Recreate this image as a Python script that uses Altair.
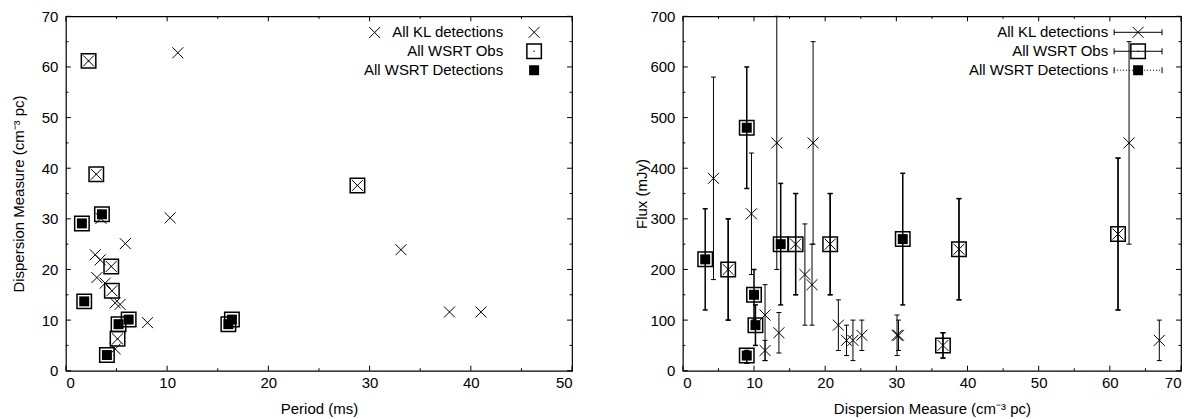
import altair as alt
import pandas as pd

# ---------------- Left panel: Period vs DM ----------------
kl_period = [2.24, 11.06, 3.0, 3.46, 10.3, 5.87, 2.9, 3.39, 4.48, 3.06, 3.88, 4.54,
             4.87, 5.36, 8.06, 5.1, 4.87, 28.8, 33.1, 37.9, 41.0, 30.5]
kl_dm = [61.2, 62.8, 38.8, 30.1, 30.2, 25.1, 22.9, 21.9, 20.6, 18.4, 17.3, 15.8,
         13.4, 13.1, 9.5, 6.3, 4.3, 36.6, 23.9, 11.6, 11.6, 66.8]
obs_period = [2.24, 3.0, 4.48, 4.54, 5.1, 28.8, 3.56, 1.58, 1.81, 6.2, 5.2, 4.05, 16.05, 16.4]
obs_dm = [61.2, 38.8, 20.6, 15.8, 6.3, 36.6, 30.9, 29.1, 13.7, 10.1, 9.2, 3.1, 9.2, 10.1]
det_period = [3.56, 1.58, 1.81, 6.2, 5.2, 4.05, 16.05, 16.4]
det_dm = [30.9, 29.1, 13.7, 10.1, 9.2, 3.1, 9.2, 10.1]

# ---------------- Right panel: DM vs Flux ----------------
kl_r_dm = [4.3, 6.37, 9.64, 11.55, 11.55, 13.2, 13.5, 15.85, 17.15, 18.15, 18.3, 20.7,
           21.85, 23.0, 23.9, 25.15, 30.1, 30.3, 36.55, 38.8, 61.15, 62.7, 66.95]
kl_flux = [380, 200, 310, 110, 40, 450, 75, 250, 190, 170, 450, 250,
           90, 60, 60, 70, 70, 70, 50, 240, 270, 450, 60]
kl_lo = [180, 100, 190, 20, 20, 200, 35, 150, 90, 90, 250, 150,
         40, 30, 20, 40, 30, 40, 25, 140, 120, 250, 20]
kl_hi = [580, 300, 430, 170, 60, 700, 115, 350, 290, 250, 650, 350,
         140, 90, 100, 100, 110, 100, 75, 340, 420, 650, 100]
obs_r_dm = [3.14, 6.37, 8.98, 10.0, 10.2, 8.98, 13.75, 15.85, 20.7, 30.9, 36.55, 38.8, 61.15]
obs_flux = [220, 200, 480, 150, 90, 30, 250, 250, 250, 260, 50, 240, 270]
obs_lo = [120, 100, 360, 100, 50, 15, 130, 150, 150, 130, 25, 140, 120]
obs_hi = [320, 300, 600, 200, 130, 40, 370, 350, 350, 390, 75, 340, 420]
det_r_dm = [3.14, 8.98, 10.0, 10.2, 8.98, 13.75, 30.9]
det_flux = [220, 480, 150, 90, 30, 250, 260]

legend_labels = ["All KL detections", "All WSRT Obs", "All WSRT Detections"]

# tick values
x1_major = [0, 10, 20, 30, 40, 50]
x1_minor = [5, 15, 25, 35, 45]
y1_major = [0, 10, 20, 30, 40, 50, 60, 70]
y1_minor = [5, 15, 25, 35, 45, 55, 65]
x2_major = [0, 10, 20, 30, 40, 50, 60, 70]
x2_minor = [5, 15, 25, 35, 45, 55, 65]
y2_major = [0, 100, 200, 300, 400, 500, 600, 700]
y2_minor = [50, 150, 250, 350, 450, 550, 650]

W1, W2, H = 507, 499, 355
FONT = "Liberation Sans"
XPATH = "M-1,-1L1,1M-1,1L1,-1"
SQ_OPEN = "M-1,-1L1,-1L1,1L-1,1Z M0,-0.07L0,0.07"
CAP = "M-1,0L1,0"
DM_TITLE = "Dispersion Measure (cm\u207b\u00b3 pc)"

# ---------- scales / axes ----------
xs1 = alt.Scale(domain=[0, 50], nice=False, zero=False)
ys1 = alt.Scale(domain=[0, 70], nice=False)
ax_x1 = alt.Axis(values=x1_major, ticks=False, domain=False, grid=False, format="d",
                 labelPadding=5, titlePadding=11)
ax_y1 = alt.Axis(values=y1_major, ticks=False, domain=False, grid=False, format="d",
                 labelPadding=8, titlePadding=15)
xs2 = alt.Scale(domain=[0, 70], nice=False, zero=False)
ys2 = alt.Scale(domain=[0, 700], nice=False)
ax_x2 = alt.Axis(values=x2_major, ticks=False, domain=False, grid=False, format="d",
                 labelPadding=5, titlePadding=11)
ax_y2 = alt.Axis(values=y2_major, ticks=False, domain=False, grid=False, format="d",
                 labelPadding=8, titlePadding=0)

P1 = dict(xs=xs1, ys=ys1, ax=ax_x1, ay=ax_y1, tx="Period (ms)", ty=DM_TITLE)
P2 = dict(xs=xs2, ys=ys2, ax=ax_x2, ay=ax_y2, tx=DM_TITLE, ty="Flux (mJy)")


def X(field, p):
    return alt.X(field, scale=p["xs"], axis=p["ax"], title=p["tx"])


def Y(field, p):
    return alt.Y(field, scale=p["ys"], axis=p["ay"], title=p["ty"])


def tick_layers(p, xmaj, xmin, ymaj, ymin, w, h):
    layers = []
    for vals, ln in ((xmaj, 5), (xmin, 2.5)):
        d = pd.DataFrame({"v": vals})
        layers.append(alt.Chart(d).mark_rule(color="black", strokeWidth=1).encode(
            x=X("v:Q", p), y=alt.value(h), y2=alt.value(h - ln)))
        layers.append(alt.Chart(d).mark_rule(color="black", strokeWidth=1).encode(
            x=X("v:Q", p), y=alt.value(0), y2=alt.value(ln)))
    for vals, ln in ((ymaj, 5), (ymin, 2.5)):
        d = pd.DataFrame({"v": vals})
        layers.append(alt.Chart(d).mark_rule(color="black", strokeWidth=1).encode(
            y=Y("v:Q", p), x=alt.value(0), x2=alt.value(ln)))
        layers.append(alt.Chart(d).mark_rule(color="black", strokeWidth=1).encode(
            y=Y("v:Q", p), x=alt.value(w), x2=alt.value(w - ln)))
    return layers


def pt(df, shape, size, p, filled=False, sw=1.0):
    if filled:
        m = alt.Chart(df).mark_point(shape=shape, size=size, filled=True, color="black", opacity=1)
    else:
        m = alt.Chart(df).mark_point(shape=shape, size=size, filled=False, stroke="black",
                                     strokeWidth=sw, opacity=1)
    return m.encode(x=X("x:Q", p), y=Y("y:Q", p))


def legend_symbol(lab, shape, size, x, y, filled=False, sw=1.0):
    d = pd.DataFrame({"label": [lab]})
    if filled:
        m = alt.Chart(d).mark_point(shape=shape, size=size, filled=True, color="black", opacity=1)
    else:
        m = alt.Chart(d).mark_point(shape=shape, size=size, filled=False, stroke="black",
                                    strokeWidth=sw, opacity=1)
    return m.encode(x=alt.value(x), y=alt.value(y))


def legend_text(lab, x, y):
    d = pd.DataFrame({"label": [lab]})
    return alt.Chart(d).mark_text(align="right", baseline="middle", fontSize=15,
                                  font=FONT, color="black").encode(
        x=alt.value(x), y=alt.value(y), text="label:N")


leg_rows = [16, 35, 54]

# ---------- left panel ----------
kl_df = pd.DataFrame({"x": kl_period, "y": kl_dm})
obs_df = pd.DataFrame({"x": obs_period, "y": obs_dm})
det_df = pd.DataFrame({"x": det_period, "y": det_dm})

left_layers = [pt(kl_df, XPATH, 121, P1),
               pt(obs_df, SQ_OPEN, 210, P1, sw=1.5),
               pt(det_df, "square", 100, P1, filled=True)]
left_layers += tick_layers(P1, x1_major, x1_minor, y1_major, y1_minor, W1, H)
for i, lab in enumerate(legend_labels):
    left_layers.append(legend_text(lab, 438, leg_rows[i]))
left_layers.append(legend_symbol(legend_labels[0], XPATH, 121, 469, leg_rows[0]))
left_layers.append(legend_symbol(legend_labels[1], SQ_OPEN, 210, 469, leg_rows[1], sw=1.5))
left_layers.append(legend_symbol(legend_labels[2], "square", 100, 469, leg_rows[2], filled=True))

left = alt.layer(*left_layers).properties(width=W1, height=H)

# ---------- right panel ----------
klr = pd.DataFrame({"x": kl_r_dm, "y": kl_flux, "lo": kl_lo, "hi": kl_hi})
obr = pd.DataFrame({"x": obs_r_dm, "y": obs_flux, "lo": obs_lo, "hi": obs_hi})
der = pd.DataFrame({"x": det_r_dm, "y": det_flux})

right_layers = []
right_layers.append(alt.Chart(klr).mark_rule(color="black", strokeWidth=1).encode(
    x=X("x:Q", P2), y=Y("lo:Q", P2), y2="hi:Q"))
for f in ("lo", "hi"):
    right_layers.append(alt.Chart(klr).mark_point(shape=CAP, size=25, filled=False, stroke="black",
                                                  strokeWidth=1, opacity=1).encode(
        x=X("x:Q", P2), y=Y(f + ":Q", P2)))
right_layers.append(pt(klr, XPATH, 121, P2))
right_layers.append(alt.Chart(obr).mark_rule(color="black", strokeWidth=1.5).encode(
    x=X("x:Q", P2), y=Y("lo:Q", P2), y2="hi:Q"))
for f in ("lo", "hi"):
    right_layers.append(alt.Chart(obr).mark_point(shape=CAP, size=25, filled=False, stroke="black",
                                                  strokeWidth=1.5, opacity=1).encode(
        x=X("x:Q", P2), y=Y(f + ":Q", P2)))
right_layers.append(pt(obr, SQ_OPEN, 210, P2, sw=1.5))
right_layers.append(pt(der, "square", 100, P2, filled=True))
right_layers += tick_layers(P2, x2_major, x2_minor, y2_major, y2_minor, W2, H)

LX0, LX1, LXC, LTX = 432, 480, 456, 426
for i, lab in enumerate(legend_labels):
    d = pd.DataFrame({"label": [lab]})
    yy = leg_rows[i]
    right_layers.append(legend_text(lab, LTX, yy))
    rule_kw = dict(color="black", strokeWidth=1)
    if i == 2:
        rule_kw["strokeDash"] = [1, 2]
    right_layers.append(alt.Chart(d).mark_rule(**rule_kw).encode(
        x=alt.value(LX0), x2=alt.value(LX1), y=alt.value(yy)))
    for cx in (LX0, LX1):
        right_layers.append(alt.Chart(d).mark_rule(color="black", strokeWidth=1).encode(
            x=alt.value(cx), y=alt.value(yy - 3), y2=alt.value(yy + 3)))
right_layers.append(legend_symbol(legend_labels[0], XPATH, 121, LXC, leg_rows[0]))
right_layers.append(legend_symbol(legend_labels[1], SQ_OPEN, 210, LXC, leg_rows[1], sw=1.5))
right_layers.append(legend_symbol(legend_labels[2], "square", 100, LXC, leg_rows[2], filled=True))

right = alt.layer(*right_layers).properties(width=W2, height=H)

chart = alt.hconcat(left, right, spacing=60).properties(
    padding={"left": 2, "top": 0, "right": 5, "bottom": 0}
).configure_view(stroke="black", strokeWidth=1.2).configure_axis(
    labelFont=FONT, titleFont=FONT, labelFontSize=15, titleFontSize=15,
    labelColor="black", titleColor="black", titleFontWeight="normal"
)

chart.save("out.html", embed_options={"renderer": "svg", "actions": False})
